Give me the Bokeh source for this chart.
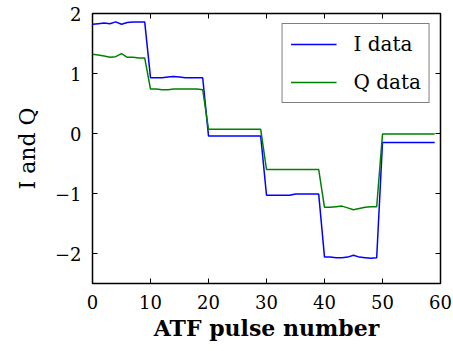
import math

from bokeh.plotting import figure
from bokeh.models import LinearAxis, FixedTicker, Legend, LegendItem, Range1d
from bokeh.embed import file_html
from bokeh.resources import INLINE

# ATF pulse index and the measured I/Q components per pulse
pulse = list(range(60))
i_data = [1.82, 1.83, 1.84, 1.83, 1.86, 1.82, 1.85, 1.86, 1.86, 1.86,
          0.93, 0.93, 0.93, 0.94, 0.95, 0.94, 0.93, 0.93, 0.93, 0.93,
          -0.04, -0.04, -0.04, -0.04, -0.04, -0.04, -0.04, -0.04, -0.04, -0.04,
          -1.03, -1.03, -1.03, -1.03, -1.03, -1.01, -1.01, -1.01, -1.01, -1.01,
          -2.06, -2.06, -2.07, -2.07, -2.06, -2.03, -2.06, -2.07, -2.08, -2.07,
          -0.15, -0.15, -0.15, -0.15, -0.15, -0.15, -0.15, -0.15, -0.15, -0.15]
q_data = [1.32, 1.31, 1.29, 1.27, 1.28, 1.33, 1.27, 1.27, 1.26, 1.26,
          0.74, 0.74, 0.73, 0.73, 0.74, 0.74, 0.74, 0.74, 0.74, 0.73,
          0.07, 0.07, 0.07, 0.07, 0.07, 0.07, 0.07, 0.07, 0.07, 0.07,
          -0.60, -0.60, -0.60, -0.60, -0.60, -0.60, -0.60, -0.60, -0.60, -0.60,
          -1.23, -1.23, -1.22, -1.21, -1.24, -1.27, -1.25, -1.23, -1.22, -1.22,
          -0.01, -0.01, -0.01, -0.01, -0.01, -0.01, -0.01, -0.01, -0.01, -0.01]

x_ticks = [0, 10, 20, 30, 40, 50, 60]
y_ticks = [-2, -1, 0, 1, 2]
y_tick_labels = {-2: "\u22122", -1: "\u22121", 0: "0", 1: "1", 2: "2"}

X_MIN, X_MAX = 0, 60
Y_MIN, Y_MAX = -2.5, 2

SERIF = "DejaVu Serif"

p = figure(width=453, height=351, output_backend="svg", toolbar_location=None,
           x_range=Range1d(X_MIN, X_MAX), y_range=Range1d(Y_MIN, Y_MAX),
           x_axis_location=None, y_axis_location=None,
           min_border_left=92, min_border_right=13,
           min_border_top=13, min_border_bottom=68)
p.background_fill_color = "white"
p.border_fill_color = "white"
p.grid.visible = False
p.outline_line_color = "black"
p.outline_line_width = 1.5

r_i = p.line(pulse, i_data, line_color="#0000ff", line_width=1.5)
r_q = p.line(pulse, q_data, line_color="#008000", line_width=1.5)


def make_axis(ticks, **kw):
    ax = LinearAxis(ticker=FixedTicker(ticks=ticks), **kw)
    ax.axis_line_color = None
    ax.major_tick_in = 5
    ax.major_tick_out = 0
    ax.major_tick_line_color = "black"
    ax.major_tick_line_width = 1
    ax.minor_tick_line_color = None
    ax.major_label_text_font = SERIF
    ax.major_label_text_font_size = "18px"
    ax.major_label_text_color = "black"
    ax.major_label_standoff = 11
    ax.axis_label_text_font = SERIF
    ax.axis_label_text_font_size = "22px"
    ax.axis_label_text_color = "black"
    return ax


bottom = make_axis(x_ticks, axis_label="ATF pulse number")
bottom.axis_label_text_font_style = "bold"
bottom.axis_label_standoff = 3
left = make_axis(y_ticks, axis_label="I and Q")
left.axis_label_text_font_style = "normal"
left.axis_label_standoff = 12
left.major_label_overrides = y_tick_labels
p.add_layout(bottom, "below")
p.add_layout(left, "left")

# mirrored inward ticks on the top and right edges (half of each dash is clipped by the frame)
p.scatter(x=x_ticks, y=[Y_MAX] * len(x_ticks), marker="dash", size=10,
          angle=math.pi / 2, line_color="black", line_width=1)
p.scatter(x=[X_MAX] * len(y_ticks), y=y_ticks, marker="dash", size=10,
          line_color="black", line_width=1)

legend = Legend(items=[LegendItem(label="I data", renderers=[r_i]),
                       LegendItem(label="Q data", renderers=[r_q])],
                location="top_right")
legend.margin = 10
legend.padding = 8
legend.spacing = 14
legend.glyph_width = 46
legend.glyph_height = 20
legend.label_height = 20
legend.label_standoff = 17
legend.label_text_font = SERIF
legend.label_text_font_size = "20px"
legend.label_text_color = "black"
legend.border_line_color = "black"
legend.border_line_width = 1.5
legend.background_fill_alpha = 1
p.add_layout(legend, "center")

open("out.html", "w").write(file_html(p, INLINE))
